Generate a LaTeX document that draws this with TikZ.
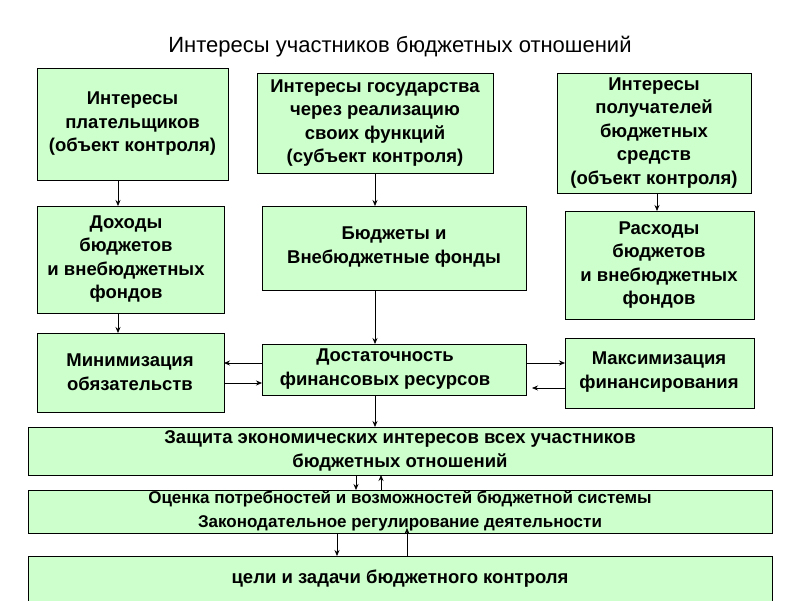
\documentclass[tikz,border=0pt]{standalone}
\usepackage{fontspec}
\setmainfont{Liberation Sans}
\usetikzlibrary{arrows.meta}
\definecolor{bx}{HTML}{CCFFCC}
\begin{document}
\begin{tikzpicture}[x=1pt,y=-1pt,
  bb/.style={draw=black,line width=0.8pt,fill=bx},
  tx/.style={align=center,font=\bfseries\fontsize{18.5}{23.5}\selectfont},
  ar/.style={-{Stealth[length=6pt,width=5pt]},line width=0.7pt}]
\useasboundingbox[fill=white] (0,0) rectangle (800,600);
\node[font=\fontsize{22}{24}\selectfont] (t) at (400,47) {Интересы участников бюджетных отношений};
\draw[bb] (37,68) rectangle (228,180); \node[tx] (b1) at (132.5,124) {Интересы\\плательщиков\\(объект контроля)};
\draw[bb] (257,73) rectangle (493,173); \node[tx] (b2) at (375,123) {Интересы государства\\через реализацию\\своих функций\\(субъект контроля)};
\draw[bb] (557,73) rectangle (751,193); \node[tx] (b3) at (654,133) {Интересы\\получателей\\бюджетных\\средств\\(объект контроля)};
\draw[bb] (37,206) rectangle (224,313); \node[tx] (b4) at (126,259) {Доходы\\бюджетов\\и внебюджетных\\фондов};
\draw[bb] (262,206) rectangle (526,290); \node[tx] (b5) at (394,247) {Бюджеты и\\Внебюджетные фонды};
\draw[bb] (565,211) rectangle (754,319); \node[tx] (b6) at (659,265) {Расходы\\бюджетов\\и внебюджетных\\фондов};
\draw[bb] (37,333) rectangle (224,412); \node[tx] (b7) at (130,372) {Минимизация\\обязательств};
\draw[bb] (262,344) rectangle (526,395); \node[tx] (b8) at (385,369) {Достаточность\\финансовых ресурсов};
\draw[bb] (565,338) rectangle (754,408); \node[tx] (b9) at (659,372) {Максимизация\\финансирования};
\draw[bb] (28,427) rectangle (772,475); \node[tx] (b10) at (400,451) {Защита экономических интересов всех участников\\бюджетных отношений};
\draw[bb] (28,490) rectangle (772,533); \node[tx,font=\bfseries\fontsize{17}{24}\selectfont] (b11) at (400,511) {Оценка потребностей и возможностей бюджетной системы\\Законодательное регулирование деятельности};
\draw[bb] (28,556) rectangle (772,605); \node[tx] (b12) at (400,579) {цели и задачи бюджетного контроля};
\coordinate (a1) at (118,180); \coordinate (a2) at (118,206);
\draw[ar] (a1) -- (a2);
\draw[ar] (118,313) -- (118,333);
\draw[ar] (375,173) -- (375,206);
\draw[ar] (657,193) -- (657,211);
\draw[ar] (375,290) -- (375,344);
\draw[ar] (375,395) -- (375,427);
\draw[ar] (262,363) -- (224,363);
\draw[ar] (224,383) -- (262,383);
\draw[ar] (526,363) -- (565,363);
\draw[ar] (565,388) -- (532,388);
\draw[ar] (356,475) -- (356,490);
\draw[ar] (381,490) -- (381,475);
\draw[ar] (337,533) -- (337,556);
\draw[ar] (407,556) -- (407,528);
\end{tikzpicture}
\end{document}
